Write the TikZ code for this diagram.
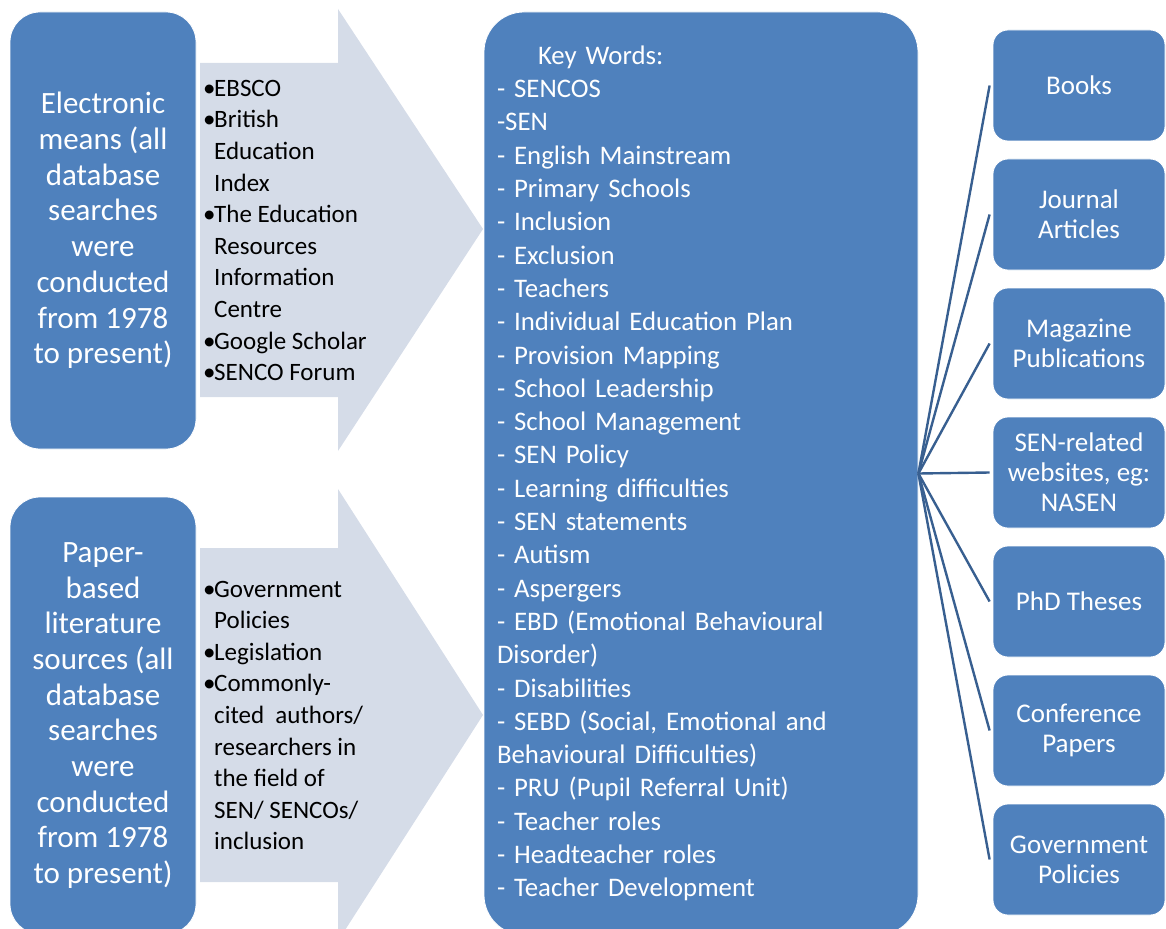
\documentclass[tikz,border=0pt]{standalone}
\usepackage{fontspec}
\setmainfont{Carlito}
\definecolor{boxblue}{HTML}{4F81BD}
\definecolor{arrowfill}{HTML}{D5DCE8}
\definecolor{linkblue}{HTML}{385F90}
\newcommand{\lbul}[1]{\makebox[13pt][l]{\kern2pt\textbullet}#1}
\newcommand{\lcont}[1]{\hspace*{13pt}#1}
\newcommand{\kwfont}{\fontsize{26.8}{33.3}\selectfont\spaceskip=5pt plus 1pt\relax}
\begin{document}
\begin{tikzpicture}[x=1pt,y=-1pt,
  bluebox/.style={fill=boxblue, draw=white, line width=0.8pt, text=white, align=center, inner sep=0pt},
  leftbox/.style={bluebox, minimum width=186pt, minimum height=437pt, rounded corners=30pt, font=\fontsize{31}{35.7}\selectfont},
  srcbox/.style={bluebox, minimum width=172pt, minimum height=111pt, rounded corners=15pt, font=\fontsize{27}{30}\selectfont},
  keybox/.style={bluebox, minimum width=434pt, minimum height=923pt, rounded corners=40pt, align=left, text width=408pt, font=\kwfont},
  listtext/.style={anchor=west, inner sep=0pt, align=left, text=black, font=\fontsize{25}{31.6}\selectfont},
  bigarrow/.style={fill=arrowfill, draw=none},
  link/.style={draw=linkblue, line width=2.4pt}
]
\useasboundingbox (0,0) rectangle (1166,928);
\clip (0,0) rectangle (1166,928);

% arrows
\fill[bigarrow] (200,63) -- (338,63) -- (338,9) -- (483,229) -- (338,451) -- (338,397) -- (200,397) -- cycle;
\fill[bigarrow] (200,548) -- (338,548) -- (338,489) -- (483,715) -- (338,941) -- (338,882) -- (200,882) -- cycle;

% left boxes
\node[leftbox] (elec) at (103,230.5) {Electronic\\means (all\\database\\searches\\were\\conducted\\from 1978\\to present)};
\node[leftbox] (paper) at (103,715.5) {Paper-\\based\\literature\\sources (all\\database\\searches\\were\\conducted\\from 1978\\to present)};

% lists
\node[listtext] (elist) at (201,230.5) {\lbul{EBSCO}\\\lbul{British}\\\lcont{Education}\\\lcont{Index}\\\lbul{The Education}\\\lcont{Resources}\\\lcont{Information}\\\lcont{Centre}\\\lbul{Google Scholar}\\\lbul{SENCO Forum}};
\node[listtext] (plist) at (201,715.5) {\lbul{Government}\\\lcont{Policies}\\\lbul{Legislation}\\\lbul{Commonly-}\\\lcont{cited\ \ authors/}\\\lcont{researchers in}\\\lcont{the field of}\\\lcont{SEN/ SENCOs/}\\\lcont{inclusion}};

% key words box
\node[keybox] (kw) at (701,473.5) {\hspace*{41pt}Key Words:\\- SENCOS\\-SEN\\- English Mainstream\\- Primary Schools\\- Inclusion\\- Exclusion\\- Teachers\\- Individual Education Plan\\- Provision Mapping\\- School Leadership\\- School Management\\- SEN Policy\\- Learning difficulties\\- SEN statements\\- Autism\\- Aspergers\\- EBD (Emotional Behavioural\\Disorder)\\- Disabilities\\- SEBD (Social, Emotional and\\Behavioural Difficulties)\\- PRU (Pupil Referral Unit)\\- Teacher roles\\- Headteacher roles\\- Teacher Development};

% source boxes
\node[srcbox] (books) at (1079,85.5) {Books};
\node[srcbox] (journal) at (1079,214.5) {Journal\\Articles};
\node[srcbox] (mag) at (1079,343.5) {Magazine\\Publications};
\node[srcbox] (web) at (1079,472.5) {SEN-related\\websites, eg:\\NASEN};
\node[srcbox] (phd) at (1079,601.5) {PhD Theses};
\node[srcbox] (conf) at (1079,730.5) {Conference\\Papers};
\node[srcbox] (gov) at (1079,859.5) {Government\\Policies};

% connectors
\foreach \t in {books,journal,mag,web,phd,conf,gov}
  \draw[link] (kw.east) -- ([xshift=-3pt]\t.west);
\end{tikzpicture}
\end{document}
